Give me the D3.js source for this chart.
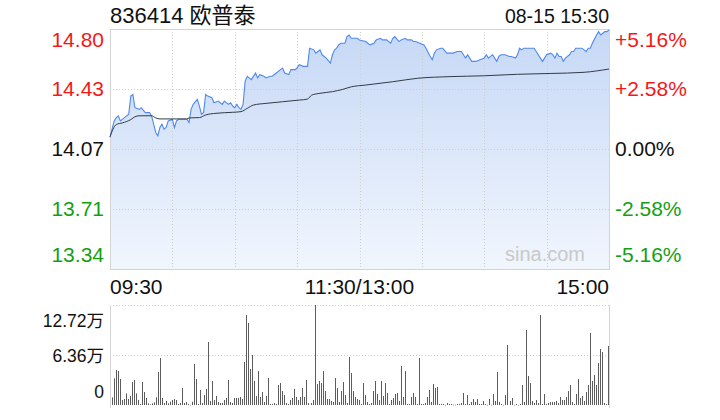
<!DOCTYPE html>
<html><head><meta charset="utf-8">
<script src="https://cdn.jsdelivr.net/npm/d3@7/dist/d3.min.js"></script>
<style>
html,body{margin:0;padding:0;background:#fff;}
svg{display:block;font-family:"Liberation Sans",Arial,"Noto Sans CJK SC",sans-serif;}
</style></head>
<body><svg id="c" width="720" height="420"></svg>
<script>
const title = "836414 欧普泰";
const dateLabel = "08-15 15:30";
const prevClose = 14.07;
const maxPct = 5.16;
const priceTickLabels = ["14.80","14.43","14.07","13.71","13.34"];
const pctTicks = [5.16, 2.58, 0, -2.58, -5.16];
const pctTickLabels = ["+5.16%","+2.58%","0.00%","-2.58%","-5.16%"];
const timeLabels = ["09:30","11:30/13:00","15:00"];
const timeLabelMinutes = [0,120,240];
const volTicks = [12.72, 6.36, 0];
const volTickLabels = ["12.72万","6.36万","0"];

const priceMinutes = [0,2,3,4,5,7,9,10,11,12,14,15,17,19,20,21,22,23,24,25,26,27,28,30,31,32,33,37,38,39,40,42,43,44,45,46,47,49,50,52,54,55,57,58,59,60,61,62,63,64,65,66,68,70,71,72,74,75,77,78,80,82,83,84,86,87,89,90,91,93,95,96,98,99,100,101,102,104,106,107,108,109,110,111,113,114,115,116,117,119,120,123,125,127,128,130,131,133,135,136,137,139,140,142,143,145,146,147,149,151,152,154,155,156,157,159,160,162,163,165,167,169,170,171,172,173,174,175,176,178,180,181,182,183,184,185,186,187,188,190,192,193,195,196,197,198,199,200,202,204,205,207,208,209,210,212,213,214,215,216,217,218,219,220,221,222,223,224,226,227,228,229,230,231,232,234,235,236,237,238,239,240];
const prices = [14.14,14.24,14.26,14.27,14.24,14.26,14.28,14.39,14.40,14.32,14.31,14.32,14.29,14.29,14.27,14.22,14.17,14.15,14.20,14.22,14.19,14.20,14.24,14.25,14.20,14.24,14.25,14.25,14.23,14.31,14.34,14.37,14.33,14.28,14.29,14.40,14.39,14.38,14.35,14.36,14.34,14.36,14.34,14.35,14.33,14.32,14.34,14.32,14.31,14.34,14.48,14.51,14.49,14.53,14.50,14.52,14.51,14.50,14.51,14.51,14.53,14.55,14.56,14.53,14.52,14.55,14.55,14.56,14.58,14.57,14.57,14.68,14.67,14.65,14.66,14.67,14.64,14.62,14.59,14.64,14.67,14.68,14.70,14.71,14.71,14.75,14.76,14.74,14.74,14.74,14.73,14.72,14.70,14.71,14.73,14.74,14.73,14.73,14.71,14.74,14.75,14.72,14.73,14.74,14.73,14.73,14.72,14.72,14.71,14.70,14.68,14.63,14.61,14.65,14.67,14.68,14.68,14.65,14.65,14.65,14.66,14.66,14.64,14.62,14.64,14.62,14.60,14.60,14.60,14.61,14.62,14.64,14.62,14.63,14.64,14.62,14.60,14.63,14.64,14.64,14.63,14.63,14.62,14.64,14.68,14.67,14.68,14.68,14.68,14.68,14.66,14.62,14.60,14.62,14.64,14.65,14.64,14.62,14.65,14.63,14.63,14.60,14.62,14.63,14.64,14.66,14.66,14.68,14.68,14.68,14.67,14.66,14.68,14.68,14.71,14.76,14.78,14.76,14.77,14.78,14.78,14.79];

const avgMinutes = [0,3,6,10,12,14,20,22,24,37,38,43,46,51,59,63,66,69,75,83,91,95,97,101,107,112,116,123,136,148,164,180,196,212,228,240];
const avgPrices = [14.144,14.218,14.228,14.248,14.265,14.271,14.271,14.258,14.252,14.252,14.258,14.260,14.276,14.286,14.292,14.296,14.316,14.336,14.346,14.356,14.366,14.372,14.396,14.407,14.417,14.431,14.446,14.457,14.477,14.498,14.508,14.513,14.522,14.527,14.534,14.554];

// volume, unit: 万
const volumes = [0.98,3.39,4.45,4.32,3.31,0.64,0.76,1.48,0.76,1.14,2.93,3.18,1.48,0.64,0.13,2.93,1.65,0.89,0.21,0.08,0.21,0.34,0.98,4.20,5.98,0.89,0.25,0.51,0.21,0.42,0.64,0.76,0.64,0.13,0.25,2.16,0.25,0.38,0.13,0.02,0.42,5.22,3.31,0.13,1.91,0.25,1.27,2.04,8.01,0.51,3.05,0.64,1.14,0.38,0.25,0.25,0.64,0.89,3.18,0.38,0.25,0.89,0.89,
0.89,1.02,0.76,5.47,11.45,10.43,4.58,6.36,3.05,1.14,4.32,1.02,1.65,0.38,1.14,3.43,0.13,0.13,0.25,0.13,2.54,2.80,1.78,1.27,0.25,0.13,0.64,0.89,2.04,1.02,0.64,1.02,2.16,1.02,3.18,0.25,0.25,0.64,12.72,2.67,3.05,2.80,4.32,1.78,0.76,0.76,0.51,0.38,3.43,2.16,0.38,1.78,2.93,1.27,0.25,6.11,4.07,1.78,1.02,0.76,0.64,0.13,
2.80,1.27,0.38,0.13,0.25,1.78,3.05,1.40,0.64,3.05,1.14,2.80,1.53,0.13,0.64,0.89,1.40,1.53,0.51,4.96,1.02,4.32,0.13,0.13,1.02,1.53,1.02,0.13,5.98,0.13,0.13,0.25,1.02,1.91,0.38,2.67,2.16,2.29,0.13,0.13,0.13,0.02,0.25,0.13,0.13,0.04,0.04,0.13,0.13,0.25,1.53,0.13,1.27,0.13,0.38,0.76,0.38,0.76,0.13,0.13,0.51,0.13,
0.02,0.76,0.02,1.40,0.51,4.20,0.38,0.13,0.02,1.27,7.63,0.51,0.89,0.02,0.13,0.02,0.13,2.54,0.38,9.54,3.69,2.80,0.51,0.25,0.64,0.25,11.45,0.13,1.40,0.13,0.25,0.38,0.38,0.38,0.51,0.25,1.02,0.64,0.64,1.02,1.78,2.54,0.38,0.13,1.40,3.31,0.89,1.14,0.51,1.65,2.54,9.16,3.05,3.82,2.54,5.34,7.12,6.74,0.25,0.13,7.50];

const svg = d3.select("#c");
const L = 110, R = 609, T = 29, B = 269;
const VT = 305, VB = 405;
const RED = "#f41818", GREEN = "#14a014", GRID = "#cfcfcf";

const x = d3.scaleLinear().domain([0, 240]).range([L, R]);
const y = d3.scaleLinear()
  .domain([prevClose * (1 - maxPct / 100), prevClose * (1 + maxPct / 100)])
  .range([B, T]);
const yPct = d3.scaleLinear().domain([-maxPct, maxPct]).range([B, T]);
const xv = d3.scaleLinear().domain([0, volumes.length - 1]).range([L + 1.5, R - 1]);
const yv = d3.scaleLinear().domain([0, 12.72]).range([VB, VT]);

// gradient
const defs = svg.append("defs");
const g = defs.append("linearGradient").attr("id", "fillg").attr("x1", 0).attr("y1", 0).attr("x2", 0).attr("y2", 1);
g.append("stop").attr("offset", "0%").attr("stop-color", "#c6d8f6");
g.append("stop").attr("offset", "100%").attr("stop-color", "#f1f6fd");

const priceData = priceMinutes.map((m, i) => ({m, p: prices[i]}));
const avgData = avgMinutes.map((m, i) => ({m, p: avgPrices[i]}));

// area
svg.append("path").datum(priceData)
  .attr("d", d3.area().x(d => x(d.m)).y0(B).y1(d => y(d.p)))
  .attr("fill", "url(#fillg)");

// watermark
svg.append("text").attr("x", 585).attr("y", 261).attr("text-anchor", "end")
  .attr("font-size", 20).attr("fill", "#c9c9c9").text("sina.com");

// grid
const gridG = svg.append("g").attr("stroke", GRID).attr("stroke-width", 1).attr("stroke-dasharray", "1,2").attr("fill", "none");
[2.58, 0, -2.58].forEach(p => {
  const yy = Math.round(yPct(p)) + 0.5;
  gridG.append("line").attr("x1", L).attr("x2", R).attr("y1", yy).attr("y2", yy);
});
d3.range(30, 240, 30).forEach(m => {
  const xx = Math.round(x(m)) + 0.5;
  gridG.append("line").attr("x1", xx).attr("x2", xx).attr("y1", T).attr("y2", B);
});
// border
svg.append("rect").attr("x", L + 0.5).attr("y", T + 0.5).attr("width", R - L).attr("height", B - T)
  .attr("fill", "none").attr("stroke", "#d4d4d4");

// lines
svg.append("path").datum(priceData)
  .attr("d", d3.line().x(d => x(d.m)).y(d => y(d.p)))
  .attr("fill", "none").attr("stroke", "#4f88ee").attr("stroke-width", 1.1);
svg.append("path").datum(avgData)
  .attr("d", d3.line().curve(d3.curveMonotoneX).x(d => x(d.m)).y(d => y(d.p)))
  .attr("fill", "none").attr("stroke", "#333b44").attr("stroke-width", 1);

// labels
const fs = 21;
const labelColor = p => p > 0 ? RED : (p < 0 ? GREEN : "#111");
const labelY = (p, i) => {
  const yy = yPct(p);
  if (i === 0) return yy + 18;
  if (i === pctTicks.length - 1) return yy - 7;
  return yy + 7;
};
svg.append("g").selectAll("text").data(pctTicks).join("text")
  .attr("x", 104).attr("y", (p, i) => labelY(p, i)).attr("text-anchor", "end")
  .attr("font-size", fs).attr("fill", labelColor).text((p, i) => priceTickLabels[i]);
svg.append("g").selectAll("text").data(pctTicks).join("text")
  .attr("x", 615).attr("y", (p, i) => labelY(p, i)).attr("text-anchor", "start")
  .attr("font-size", fs).attr("fill", labelColor).text((p, i) => pctTickLabels[i]);

// title
svg.append("text").attr("x", 110).attr("y", 23).attr("font-size", 22).attr("fill", "#111").text(title);
svg.append("text").attr("x", 609).attr("y", 23).attr("text-anchor", "end").attr("font-size", 19.5).attr("fill", "#111").text(dateLabel);

// time labels
svg.append("g").selectAll("text").data(timeLabels).join("text")
  .attr("x", (t, i) => x(timeLabelMinutes[i]))
  .attr("y", 294)
  .attr("text-anchor", (t, i) => i === 0 ? "start" : (i === timeLabels.length - 1 ? "end" : "middle"))
  .attr("font-size", fs).attr("fill", "#111").text(t => t);

// volume panel
const vg = svg.append("g").attr("stroke", GRID).attr("stroke-dasharray", "1,2");
[12.72, 6.36].forEach(v => {
  const yy = Math.round(yv(v)) + 0.5;
  vg.append("line").attr("x1", L).attr("x2", R).attr("y1", yy).attr("y2", yy);
});
svg.append("line").attr("x1", L + 0.5).attr("x2", L + 0.5).attr("y1", VT).attr("y2", VB + 3).attr("stroke", "#d4d4d4");
svg.append("line").attr("x1", R + 0.5).attr("x2", R + 0.5).attr("y1", VT).attr("y2", VB + 3).attr("stroke", "#d4d4d4");

svg.append("g").selectAll("rect").data(volumes).join("rect")
  .attr("x", (v, i) => Math.round(xv(i)))
  .attr("width", 1)
  .attr("y", v => yv(v))
  .attr("height", v => Math.max(0.6, VB - yv(v)))
  .attr("fill", "#5c5c5c");

const vLabelY = [VT + 22, yv(6.36) + 7, VB - 7];
svg.append("g").selectAll("text").data(volTicks).join("text")
  .attr("x", 104).attr("y", (v, i) => vLabelY[i]).attr("text-anchor", "end")
  .attr("font-size", 17.5).attr("fill", "#111")
  .text((v, i) => volTickLabels[i]);
</script></body></html>
